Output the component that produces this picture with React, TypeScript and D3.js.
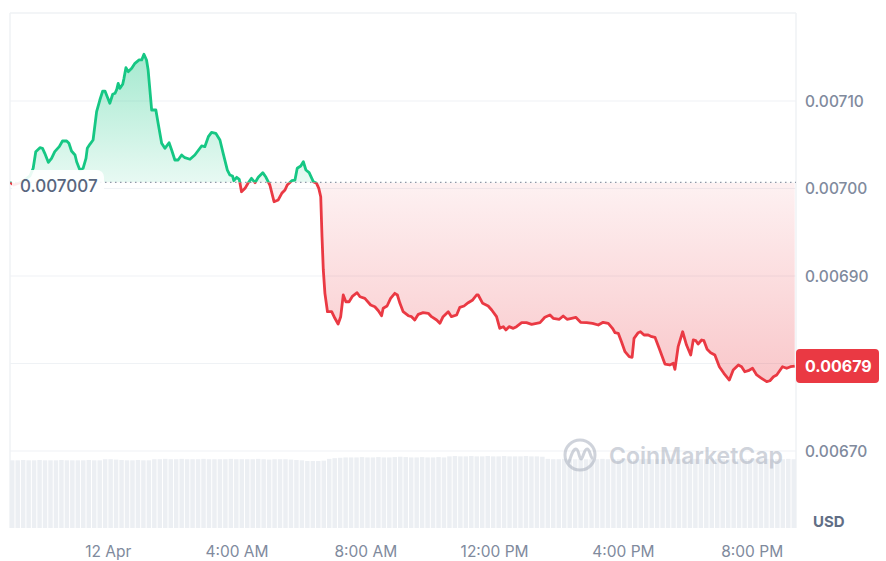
import React from "react";
import * as d3 from "d3";

// time in hours relative to 12 Apr 00:00, price in USD
const hours = [
  -3.05, -2.93, -2.68, -2.43, -2.33, -2.25, -2.12, -2.04, -1.97, -1.86, -1.76, -1.66, -1.52, -1.42, -1.29, -1.22,
  -1.14, -1.03, -0.98, -0.88, -0.78, -0.69, -0.65, -0.57, -0.47, -0.36, -0.26, -0.17, -0.10, -0.03, 0.05, 0.14,
  0.21, 0.26, 0.31, 0.36, 0.45, 0.49, 0.55, 0.62, 0.73, 0.83, 0.96, 1.04, 1.11, 1.19, 1.24, 1.35,
  1.48, 1.55, 1.66, 1.76, 1.89, 1.97, 2.07, 2.17, 2.28, 2.38, 2.54, 2.69, 2.90, 3.00, 3.11, 3.21,
  3.34, 3.47, 3.57, 3.70, 3.78, 3.86, 3.90, 3.99, 4.07, 4.14, 4.25, 4.35, 4.45, 4.56, 4.66, 4.80,
  4.90, 5.02, 5.15, 5.28, 5.39, 5.49, 5.56, 5.70, 5.80, 5.87, 5.98, 6.06, 6.14, 6.24, 6.37, 6.47,
  6.54, 6.60, 6.64, 6.68, 6.73, 6.81, 6.94, 7.04, 7.14, 7.22, 7.30, 7.38, 7.48, 7.59, 7.73, 7.82,
  7.97, 8.15, 8.28, 8.39, 8.49, 8.54, 8.66, 8.77, 8.90, 8.98, 9.06, 9.16, 9.32, 9.42, 9.52, 9.63,
  9.78, 9.94, 10.04, 10.20, 10.30, 10.40, 10.56, 10.66, 10.82, 10.92, 11.05, 11.18, 11.32, 11.44, 11.49, 11.63,
  11.80, 11.91, 12.06, 12.16, 12.27, 12.35, 12.45, 12.58, 12.68, 12.84, 12.99, 13.15, 13.30, 13.41, 13.56, 13.72,
  13.82, 14.01, 14.13, 14.25, 14.39, 14.52, 14.67, 14.86, 15.04, 15.22, 15.37, 15.53, 15.66, 15.74, 15.84, 15.94,
  16.05, 16.18, 16.27, 16.33, 16.46, 16.53, 16.64, 16.77, 16.88, 16.98, 17.11, 17.29, 17.44, 17.55, 17.60, 17.70,
  17.84, 17.96, 18.09, 18.17, 18.25, 18.32, 18.43, 18.50, 18.60, 18.71, 18.84, 18.98, 19.12, 19.29, 19.41, 19.57,
  19.67, 19.77, 19.88, 20.01, 20.14, 20.29, 20.45, 20.55, 20.66, 20.76, 20.94, 21.07, 21.19, 21.32,
];

const prices = [
  0.0070070, 0.0070040, 0.0070074, 0.0070143, 0.0070231, 0.0070421, 0.0070466, 0.0070459, 0.0070402, 0.0070299, 0.0070345, 0.0070421, 0.0070478, 0.0070543, 0.0070543, 0.0070517,
  0.0070429, 0.0070383, 0.0070306, 0.0070211, 0.0070231, 0.0070345, 0.0070459, 0.0070505, 0.0070554, 0.0070878, 0.0071011, 0.0071114, 0.0071114, 0.0071049, 0.0070974, 0.0071077,
  0.0071088, 0.0071126, 0.0071202, 0.0071145, 0.0071191, 0.0071259, 0.0071381, 0.0071335, 0.0071374, 0.0071431, 0.0071469, 0.0071469, 0.0071534, 0.0071469, 0.0071354, 0.0070897,
  0.0070897, 0.0070745, 0.0070517, 0.0070459, 0.0070523, 0.0070440, 0.0070326, 0.0070326, 0.0070383, 0.0070352, 0.0070334, 0.0070383, 0.0070486, 0.0070478, 0.0070592, 0.0070642,
  0.0070631, 0.0070554, 0.0070402, 0.0070211, 0.0070154, 0.0070143, 0.0070089, 0.0070128, 0.0070105, 0.0069963, 0.0070002, 0.0070066, 0.0070117, 0.0070066, 0.0070128, 0.0070181,
  0.0070128, 0.0070040, 0.0069849, 0.0069869, 0.0069945, 0.0069983, 0.0070040, 0.0070089, 0.0070097, 0.0070231, 0.0070257, 0.0070306, 0.0070211, 0.0070181, 0.0070078, 0.0070059,
  0.0070002, 0.0069906, 0.0069449, 0.0069069, 0.0068802, 0.0068592, 0.0068592, 0.0068517, 0.0068451, 0.0068535, 0.0068783, 0.0068706, 0.0068706, 0.0068771, 0.0068809, 0.0068763,
  0.0068745, 0.0068669, 0.0068649, 0.0068603, 0.0068546, 0.0068631, 0.0068657, 0.0068745, 0.0068802, 0.0068783, 0.0068688, 0.0068592, 0.0068546, 0.0068535, 0.0068497, 0.0068562,
  0.0068581, 0.0068574, 0.0068535, 0.0068497, 0.0068459, 0.0068535, 0.0068592, 0.0068535, 0.0068554, 0.0068642, 0.0068657, 0.0068695, 0.0068726, 0.0068783, 0.0068783, 0.0068688,
  0.0068657, 0.0068611, 0.0068535, 0.0068402, 0.0068421, 0.0068383, 0.0068421, 0.0068402, 0.0068421, 0.0068467, 0.0068467, 0.0068448, 0.0068459, 0.0068467, 0.0068528, 0.0068554,
  0.0068517, 0.0068505, 0.0068543, 0.0068505, 0.0068517, 0.0068528, 0.0068471, 0.0068467, 0.0068459, 0.0068440, 0.0068471, 0.0068459, 0.0068402, 0.0068352, 0.0068345, 0.0068249,
  0.0068135, 0.0068078, 0.0068071, 0.0068288, 0.0068352, 0.0068363, 0.0068326, 0.0068326, 0.0068306, 0.0068299, 0.0068174, 0.0067994, 0.0067983, 0.0068002, 0.0067934, 0.0068192,
  0.0068363, 0.0068211, 0.0068097, 0.0068269, 0.0068261, 0.0068223, 0.0068269, 0.0068261, 0.0068162, 0.0068123, 0.0068097, 0.0067963, 0.0067888, 0.0067811, 0.0067926, 0.0067983,
  0.0067963, 0.0067906, 0.0067918, 0.0067945, 0.0067869, 0.0067831, 0.0067792, 0.0067803, 0.0067849, 0.0067869, 0.0067963, 0.0067945, 0.0067963, 0.0067971,
];

const openPrice = 0.007007;
const lastPriceLabel = "0.00679";

const priceTicks = [0.0067, 0.0068, 0.0069, 0.007, 0.0071];
// the 0.00680 label is hidden behind the current-price tag in the reference
const priceTickLabels = ["0.00670", "", "0.00690", "0.00700", "0.00710"];

const timeTicks = [0, 4, 8, 12, 16, 20];
const timeTickLabels = ["12 Apr", "4:00 AM", "8:00 AM", "12:00 PM", "4:00 PM", "8:00 PM"];

// volume per 10-minute bucket (relative units)
const volumes = [
  94, 94, 94.5, 94, 94, 94.5, 94, 94, 94, 94.5, 94, 94,
  94, 94, 94.5, 94, 94, 95.5, 95.5, 95, 94.5, 94, 94, 94.5,
  94, 94, 95.5, 95.5, 96, 95.5, 95.5, 96, 95.5, 95.5, 95.5, 96,
  95.5, 95.5, 95.5, 95.5, 96, 95.5, 95.5, 95.5, 95.5, 96, 95.5, 95,
  95.5, 95.5, 95.5, 95, 94.5, 94, 93, 93, 93, 93.5, 96, 97,
  97.5, 98, 98, 98, 98.5, 98, 98, 98.5, 98, 98, 98.5, 99,
  98.5, 98, 98, 98.5, 98, 98, 98.5, 98, 99.5, 100, 99.5, 99.5,
  100, 99.5, 99.5, 100, 99.5, 99.5, 100, 99.5, 99.5, 99.5, 100, 99.5,
  99.5, 99, 96, 95.5, 95.5, 96, 95.5, 95.5, 96, 95.5, 95.5, 95.5,
  96, 95.5, 95.5, 95.5, 96, 95.5, 95.5, 95.5, 96, 95.5, 95.5, 95.5,
  95.5, 96, 95.5, 95.5, 95.5, 96, 95.5, 95.5, 95.5, 96, 95.5, 95.5,
  95.5, 95.5, 96, 95.5, 95.5, 95.5, 96, 95.5, 95.5, 95.5, 96, 95.5,
];

const GREEN = "#16c784";
const RED = "#ea3943";
const GRID = "#eff2f5";
const AXIS_TEXT = "#808a9d";
const FONT = "Inter, 'Noto Sans', sans-serif";

export default function App() {
  const width = 886;
  const height = 561;
  const left = 10;
  const right = 796;
  const top = 13;
  const bottom = 528;

  const x = d3.scaleLinear().domain([-3.05, 21.36]).range([left, right]);
  const y = d3.scaleLinear().domain([0.0067, 0.0071]).range([451, 101]);
  const vx = d3
    .scaleBand<number>()
    .domain(volumes.map((_, i) => i))
    .range([left, right])
    .paddingInner(0.18);
  const vy = d3.scaleLinear().domain([0, 100]).range([bottom, 456]);

  const data = hours.map((h, i) => ({ h, p: prices[i] }));
  const baseY = y(openPrice);

  const line = d3
    .line<{ h: number; p: number }>()
    .x((d) => x(d.h))
    .y((d) => y(d.p));
  const area = d3
    .area<{ h: number; p: number }>()
    .x((d) => x(d.h))
    .y0(baseY)
    .y1((d) => y(d.p));

  const linePath = line(data) || "";
  const areaPath = area(data) || "";
  const last = data[data.length - 1];

  return (
    <svg
      width={width}
      height={height}
      style={{ position: "absolute", left: 0, top: 0, background: "#fff" }}
      fontFamily={FONT}
    >
      <defs>
        <clipPath id="above">
          <rect x={left} y={top} width={right - left} height={baseY - top} />
        </clipPath>
        <clipPath id="below">
          <rect x={left} y={baseY} width={right - left} height={bottom - baseY} />
        </clipPath>
        <linearGradient id="gGreen" gradientUnits="userSpaceOnUse" x1="0" y1={y(0.00716)} x2="0" y2={baseY}>
          <stop offset="0" stopColor={GREEN} stopOpacity={0.4} />
          <stop offset="1" stopColor={GREEN} stopOpacity={0.1} />
        </linearGradient>
        <linearGradient id="gRed" gradientUnits="userSpaceOnUse" x1="0" y1={baseY} x2="0" y2={y(0.00678)}>
          <stop offset="0" stopColor={RED} stopOpacity={0.07} />
          <stop offset="1" stopColor={RED} stopOpacity={0.28} />
        </linearGradient>
      </defs>

      {/* frame */}
      <line x1={left} x2={right} y1={top} y2={top} stroke={GRID} strokeWidth={1.5} />
      <line x1={left} x2={left} y1={top} y2={bottom} stroke={GRID} strokeWidth={1.5} />
      <line x1={right} x2={right} y1={top} y2={bottom} stroke={GRID} strokeWidth={1.5} />

      {/* grid */}
      {priceTicks.map((t) => (
        <line key={t} x1={left} x2={right} y1={y(t)} y2={y(t)} stroke={GRID} strokeWidth={1.2} />
      ))}

      {/* volume */}
      {volumes.map((v, i) => (
        <rect
          key={i}
          x={vx(i)}
          y={vy(v)}
          width={vx.bandwidth()}
          height={bottom - vy(v)}
          fill="#eceff3"
        />
      ))}

      {/* watermark */}
      <g opacity={0.55}>
        <circle cx={580} cy={455} r={15} fill="none" stroke="#a9b0be" strokeWidth={3} />
        <path
          d="M569,462 C571,456 573,449 576,449 C579,449 579,459 581,459 C583,459 584,449 587,449 C590,449 590,456 592,458"
          fill="none"
          stroke="#a9b0be"
          strokeWidth={3}
          strokeLinecap="round"
        />
        <text x={609} y={464} fontSize={23} fontWeight={600} fill="#a9b0be">
          CoinMarketCap
        </text>
      </g>

      {/* areas */}
      <path d={areaPath} fill="url(#gGreen)" clipPath="url(#above)" />
      <path d={areaPath} fill="url(#gRed)" clipPath="url(#below)" />

      {/* baseline dotted */}
      <line
        x1={left}
        x2={right}
        y1={baseY}
        y2={baseY}
        stroke="#8f98a8"
        strokeWidth={1.2}
        strokeDasharray="1.5 3.5"
      />

      {/* lines */}
      <path d={linePath} fill="none" stroke={GREEN} strokeWidth={2.8} strokeLinejoin="round" clipPath="url(#above)" />
      <path d={linePath} fill="none" stroke={RED} strokeWidth={2.8} strokeLinejoin="round" clipPath="url(#below)" />

      {/* open price label */}
      <rect x={12} y={170} width={92} height={26} rx={7} fill="#fff" opacity={0.9} />
      <text x={20} y={192} fontSize={17} fontWeight={500} fill="#58667e">
        {openPrice.toFixed(6)}
      </text>

      {/* y axis labels */}
      {priceTicks.map((t, i) =>
        priceTickLabels[i] ? (
          <text key={t} x={805} y={y(t) + 5.5} fontSize={15.5} fontWeight={500} fill={AXIS_TEXT}>
            {priceTickLabels[i]}
          </text>
        ) : null
      )}

      {/* last price label */}
      <rect x={796} y={y(last.p) - 17} width={83} height={34} rx={4} fill={RED} />
      <text x={805} y={y(last.p) + 6} fontSize={16} fontWeight={700} fill="#fff">
        {lastPriceLabel}
      </text>

      {/* x axis labels */}
      {timeTicks.map((t, i) => (
        <text key={t} x={x(t)} y={557} fontSize={15.5} textAnchor="middle" fill={AXIS_TEXT}>
          {timeTickLabels[i]}
        </text>
      ))}

      <text x={813} y={527} fontSize={15} fontWeight={700} fill="#616e85">
        USD
      </text>
    </svg>
  );
}
